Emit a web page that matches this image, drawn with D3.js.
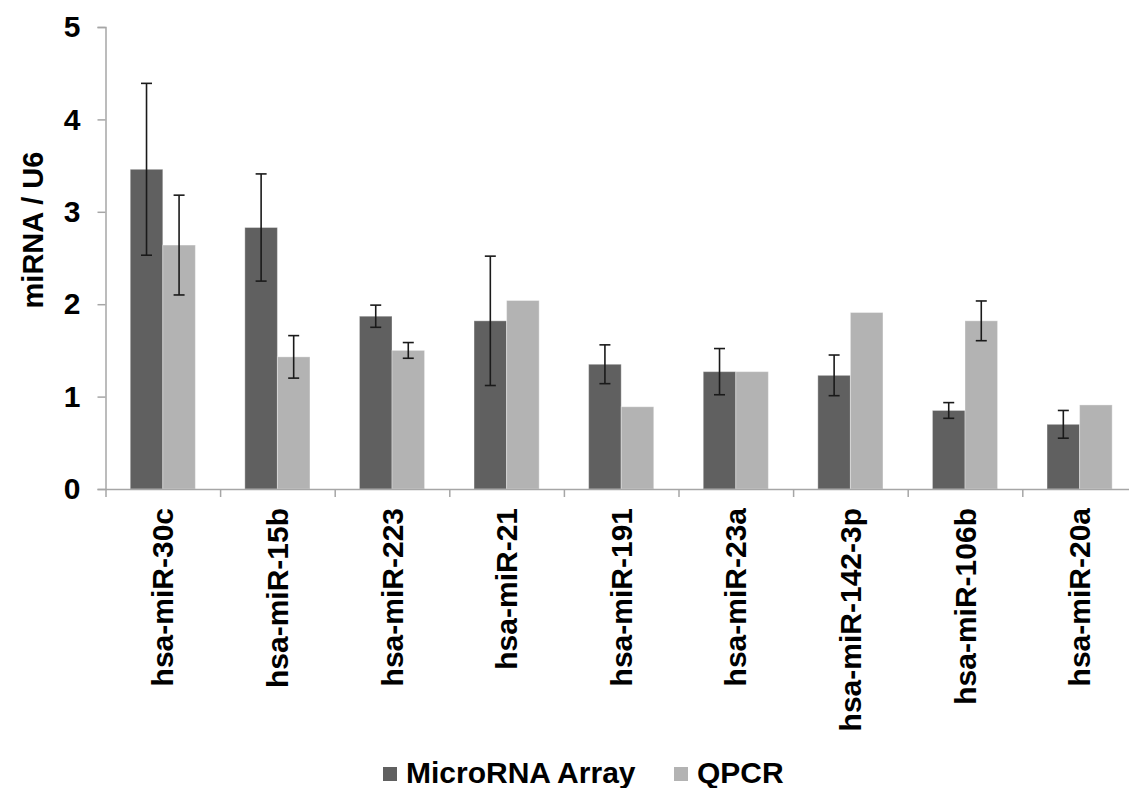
<!DOCTYPE html>
<html>
<head>
<meta charset="utf-8">
<script src="https://cdn.jsdelivr.net/npm/d3@7/dist/d3.min.js"></script>
<style>
  html, body { margin: 0; padding: 0; background: #fff; }
  svg text { font-family: "Liberation Sans", Arial, sans-serif; font-weight: bold; fill: #000; }
</style>
</head>
<body>
<svg id="chart" width="1129" height="788"></svg>
<script>
// ---- data ----
const categories = ["hsa-miR-30c", "hsa-miR-15b", "hsa-miR-223", "hsa-miR-21", "hsa-miR-191",
  "hsa-miR-23a", "hsa-miR-142-3p", "hsa-miR-106b", "hsa-miR-20a"];
const seriesNames = ["MicroRNA Array", "QPCR"];
const arrayValues = [3.46, 2.83, 1.87, 1.82, 1.35, 1.27, 1.23, 0.85, 0.70];
const arrayErrors = [0.93, 0.58, 0.12, 0.70, 0.21, 0.25, 0.22, 0.085, 0.15];
const qpcrValues = [2.64, 1.43, 1.50, 2.04, 0.89, 1.27, 1.91, 1.82, 0.91];
const qpcrErrors = [0.54, 0.23, 0.085, null, null, null, null, 0.215, null];
const yTicks = [0, 1, 2, 3, 4, 5];

const colors = {"MicroRNA Array": "#606060", "QPCR": "#b3b3b3"};
const axis_color = "#a6a6a6";

const svg = d3.select("#chart");
const margin = {left: 105.5, top: 27, bottom: 299};
const plot_h = 788 - margin.top - margin.bottom;   // y: 27 .. 489
const cat_w = 114.6;

const rows = categories.map((c, i) => ({
  cat: c,
  bars: [
    {key: seriesNames[0], value: arrayValues[i], err: arrayErrors[i]},
    {key: seriesNames[1], value: qpcrValues[i], err: qpcrErrors[i]}
  ]
}));

// ---- scales ----
const x0 = d3.scaleBand()
  .domain(categories)
  .range([margin.left, margin.left + cat_w * categories.length]);

const x1 = d3.scaleBand()
  .domain(seriesNames)
  .range([0, x0.bandwidth()])
  .paddingOuter(0.76);

const y = d3.scaleLinear()
  .domain([0, 5])
  .range([margin.top + plot_h, margin.top]);

// ---- bars ----
const groups = svg.append("g").selectAll("g")
  .data(rows)
  .join("g")
  .attr("transform", d => `translate(${x0(d.cat)},0)`);

groups.selectAll("rect")
  .data(d => d.bars)
  .join("rect")
  .attr("x", d => x1(d.key))
  .attr("width", x1.bandwidth())
  .attr("y", d => y(d.value))
  .attr("height", d => y(0) - y(d.value))
  .attr("fill", d => colors[d.key])
  .attr("stroke", "#fff")
  .attr("stroke-opacity", 0.35)
  .attr("stroke-width", 1);

// ---- error bars ----
const cap = 5.5;
const errs = groups.selectAll("g.err")
  .data(d => d.bars.filter(b => b.err != null))
  .join("g")
  .attr("class", "err")
  .attr("stroke", "#1a1a1a")
  .attr("stroke-width", 1.6);

errs.append("line")
  .attr("x1", d => x1(d.key) + x1.bandwidth() / 2)
  .attr("x2", d => x1(d.key) + x1.bandwidth() / 2)
  .attr("y1", d => y(d.value + d.err))
  .attr("y2", d => y(d.value - d.err));

errs.selectAll("line.cap")
  .data(d => [d.value + d.err, d.value - d.err].map(v => ({v, cx: x1(d.key) + x1.bandwidth() / 2})))
  .join("line")
  .attr("class", "cap")
  .attr("x1", d => d.cx - cap)
  .attr("x2", d => d.cx + cap)
  .attr("y1", d => y(d.v))
  .attr("y2", d => y(d.v));

// ---- y axis ----
const yAxis = svg.append("g")
  .attr("transform", `translate(${margin.left},0)`)
  .call(d3.axisLeft(y).tickValues(yTicks).tickSize(8).tickPadding(17).tickFormat(d3.format("d")));

yAxis.selectAll("path, line").attr("stroke", axis_color).attr("stroke-width", 1.5);
yAxis.selectAll("text")
  .style("font-size", "30px")
  .attr("fill", "#000");

svg.append("text")
  .attr("transform", `translate(43,230) rotate(-90)`)
  .attr("text-anchor", "middle")
  .style("font-size", "29px")
  .text("miRNA / U6");

// ---- x axis (category boundaries) ----
const xEdges = d3.scaleLinear()
  .domain([0, categories.length])
  .range(x0.range());

const xAxis = svg.append("g")
  .attr("transform", `translate(0,${y(0)})`)
  .call(d3.axisBottom(xEdges).tickValues(d3.range(0, categories.length + 1)).tickSize(8).tickSizeOuter(0).tickFormat(""));

xAxis.selectAll("path, line").attr("stroke", axis_color).attr("stroke-width", 1.5);

svg.append("g").selectAll("text")
  .data(categories)
  .join("text")
  .attr("transform", d => `translate(${x0(d) + x0.bandwidth() / 2},${y(0) + 19}) rotate(-90)`)
  .attr("text-anchor", "end")
  .attr("dy", "0.35em")
  .style("font-size", "30px")
  .text(d => d);

// ---- legend ----
const legendPos = [{key: seriesNames[0], x: 383}, {key: seriesNames[1], x: 674}];
const legend = svg.append("g").selectAll("g")
  .data(legendPos)
  .join("g")
  .attr("transform", d => `translate(${d.x},767)`);

legend.append("rect")
  .attr("width", 14)
  .attr("height", 14)
  .attr("fill", d => colors[d.key]);

legend.append("text")
  .attr("x", 23)
  .attr("y", 16)
  .style("font-size", "30px")
  .text(d => d.key);
</script>
</body>
</html>
